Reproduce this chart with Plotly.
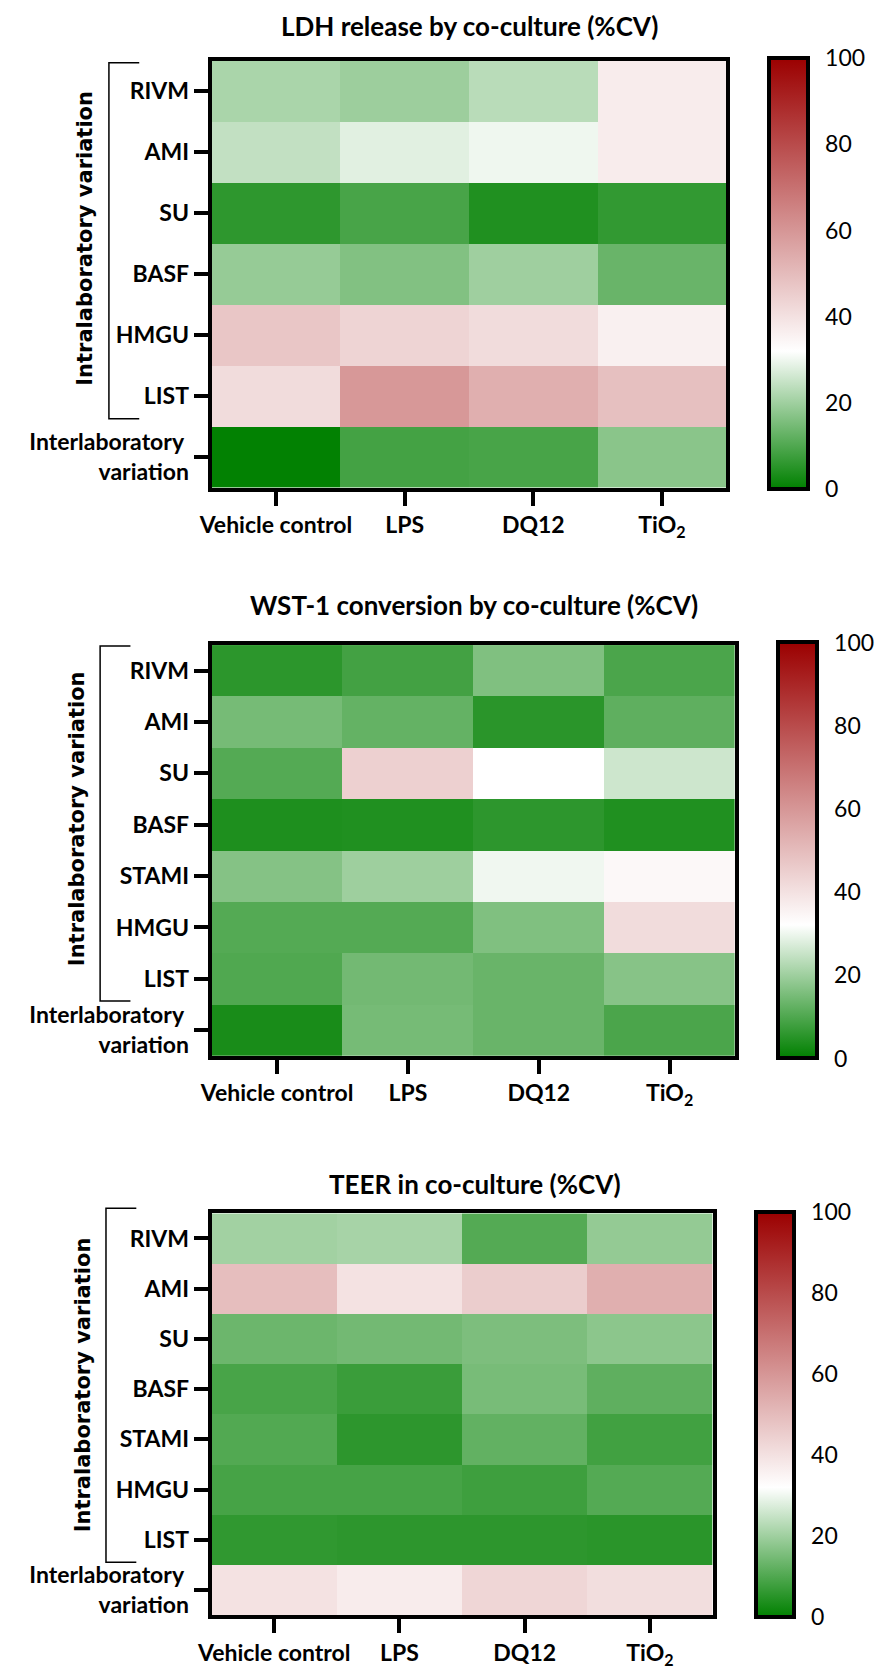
import plotly.graph_objects as go

W, H = 877, 1669

treatments = ["Vehicle control", "LPS", "DQ12", "TiO<sub>2</sub>"]
inter_label = "Interlaboratory\u00a0<br>variation"

ldh_rows = ["RIVM", "AMI", "SU", "BASF", "HMGU", "LIST", inter_label]
ldh_vehicle = [21.3, 24.3, 5.8, 18.8, 47.2, 41.3, 0.3]
ldh_lps     = [19.7, 28.2, 9.0, 16.3, 43.5, 59.5, 8.5]
ldh_dq12    = [23.2, 30.0, 4.0, 20.0, 41.3, 53.3, 9.0]
ldh_tio2    = [37.0, 37.0, 6.3, 13.2, 36.0, 48.8, 17.3]

wst_rows = ["RIVM", "AMI", "SU", "BASF", "STAMI", "HMGU", "LIST", inter_label]
wst_vehicle = [5.5, 14.8, 10.6, 3.8, 16.7, 10.6, 10.0, 3.1]
wst_lps     = [8.4, 12.5, 44.5, 4.0, 19.8, 10.6, 14.4, 14.8]
wst_dq12    = [16.0, 5.3, 32.0, 5.6, 30.1, 16.0, 13.2, 13.2]
wst_tio2    = [9.4, 11.9, 25.7, 4.0, 34.0, 41.3, 16.9, 9.4]

teer_rows = ["RIVM", "AMI", "SU", "BASF", "STAMI", "HMGU", "LIST", inter_label]
teer_vehicle = [20.3, 49.3, 13.6, 9.0, 10.3, 8.8, 6.0, 39.7]
teer_lps     = [21.0, 39.7, 14.4, 7.3, 5.6, 8.8, 5.6, 37.0]
teer_dq12    = [10.6, 45.3, 15.7, 15.0, 12.3, 7.8, 5.6, 43.0]
teer_tio2    = [18.6, 53.3, 17.6, 11.9, 8.2, 10.6, 5.3, 40.8]

titles = ["LDH release by co-culture (%CV)",
          "WST-1 conversion by co-culture (%CV)",
          "TEER in co-culture (%CV)"]
cbar_ticks = [0, 20, 40, 60, 80, 100]

colorscale = [[0.0, "rgb(0,128,0)"], [0.32, "rgb(255,255,255)"], [1.0, "rgb(155,0,0)"]]

# layout geometry (pixels)
panels = [
    dict(rows=ldh_rows, cols=[ldh_vehicle, ldh_lps, ldh_dq12, ldh_tio2],
         x=(201, 727), y=(61, 489), cb=(771, 39, 59, 490), title=(465, 26),
         bracket=(96, 127, 63, 420), ytitle=(72, 239)),
    dict(rows=wst_rows, cols=[wst_vehicle, wst_lps, wst_dq12, wst_tio2],
         x=(201, 736), y=(647, 1059), cb=(780, 39, 645, 1061), title=(469, 607),
         bracket=(87, 118, 648, 1004), ytitle=(63, 821)),
    dict(rows=teer_rows, cols=[teer_vehicle, teer_lps, teer_dq12, teer_tio2],
         x=(201, 713), y=(1217, 1620), cb=(757, 38, 1216, 1621), title=(470, 1188),
         bracket=(93, 124, 1212, 1567), ytitle=(69, 1389)),
]

LABEL_FONT = dict(family="Lato", size=23, color="black", weight="bold")

fig = go.Figure()
layout_axes = {}
shapes = []
annotations = []

def px(v):
    return v / W

def py(v):
    return 1 - v / H

for i, p in enumerate(panels):
    n = i + 1
    xa = "x" if n == 1 else f"x{n}"
    ya = "y" if n == 1 else f"y{n}"
    z = [[p["cols"][c][r] for c in range(4)] for r in range(len(p["rows"]))]
    cbx, cbth, cbtop, cbbot = p["cb"]
    fig.add_trace(go.Heatmap(
        z=z, x=treatments, y=p["rows"], xaxis=xa, yaxis=ya,
        zmin=0, zmax=100, colorscale=colorscale, hoverinfo="skip",
        colorbar=dict(
            x=px(cbx), xanchor="left", xpad=0, ypad=0,
            y=py((cbtop + cbbot) / 2), yanchor="middle",
            lenmode="pixels", len=cbbot - cbtop,
            thicknessmode="pixels", thickness=cbth,
            outlinewidth=4, outlinecolor="black", borderwidth=0,
            tickmode="array", tickvals=cbar_ticks,
            ticks="outside", ticklen=11, tickwidth=1, tickcolor="rgba(0,0,0,0)",
            tickfont=dict(family="Lato", size=23, color="black"),
        ),
    ))
    axkey = "xaxis" if n == 1 else f"xaxis{n}"
    aykey = "yaxis" if n == 1 else f"yaxis{n}"
    layout_axes[axkey] = dict(
        domain=[px(p["x"][0]), px(p["x"][1])], anchor=ya,
        showline=True, linewidth=4, linecolor="black", mirror=True,
        ticks="outside", ticklen=14, tickwidth=4, tickcolor="black",
        tickfont=LABEL_FONT, showgrid=False, zeroline=False, fixedrange=True,
    )
    layout_axes[aykey] = dict(
        domain=[py(p["y"][1]), py(p["y"][0])], anchor=xa,
        autorange="reversed",
        showline=True, linewidth=4, linecolor="black", mirror=True,
        ticks="outside", ticklen=14, tickwidth=4, tickcolor="black",
        tickfont=LABEL_FONT, showgrid=False, zeroline=False, fixedrange=True,
    )
    # colorbar inner tick marks on both sides
    for v in cbar_ticks[1:-1]:
        yy = cbbot - v / 100 * (cbbot - cbtop)
        for xl, xr in ((cbx, cbx + 8), (cbx + cbth - 8, cbx + cbth)):
            shapes.append(dict(type="line", xref="paper", yref="paper",
                               x0=px(xl), x1=px(xr), y0=py(yy), y1=py(yy),
                               line=dict(color="black", width=4)))
    # bracket
    bx, bx2, by0, by1 = p["bracket"]
    shapes.append(dict(type="path", xref="paper", yref="paper",
                       path=f"M {px(bx2)},{py(by0)} L {px(bx)},{py(by0)} L {px(bx)},{py(by1)} L {px(bx2)},{py(by1)}",
                       line=dict(color="black", width=1.5)))
    annotations.append(dict(text="Intralaboratory variation", xref="paper", yref="paper",
                            x=px(p["ytitle"][0]), y=py(p["ytitle"][1]),
                            xanchor="center", yanchor="middle", textangle=-90, showarrow=False,
                            font=dict(family="DejaVu Sans", size=21, color="black", weight="bold")))
    annotations.append(dict(text=f"<b>{titles[i]}</b>", xref="paper", yref="paper",
                            x=px(p["title"][0]), y=py(p["title"][1]),
                            xanchor="center", yanchor="middle", showarrow=False,
                            font=dict(family="Lato", size=26, color="black")))

fig.update_layout(
    width=W, height=H, margin=dict(l=0, r=0, t=0, b=0),
    paper_bgcolor="white", plot_bgcolor="white",
    shapes=shapes, annotations=annotations, showlegend=False,
    **layout_axes,
)

fig.write_html("out.html")
